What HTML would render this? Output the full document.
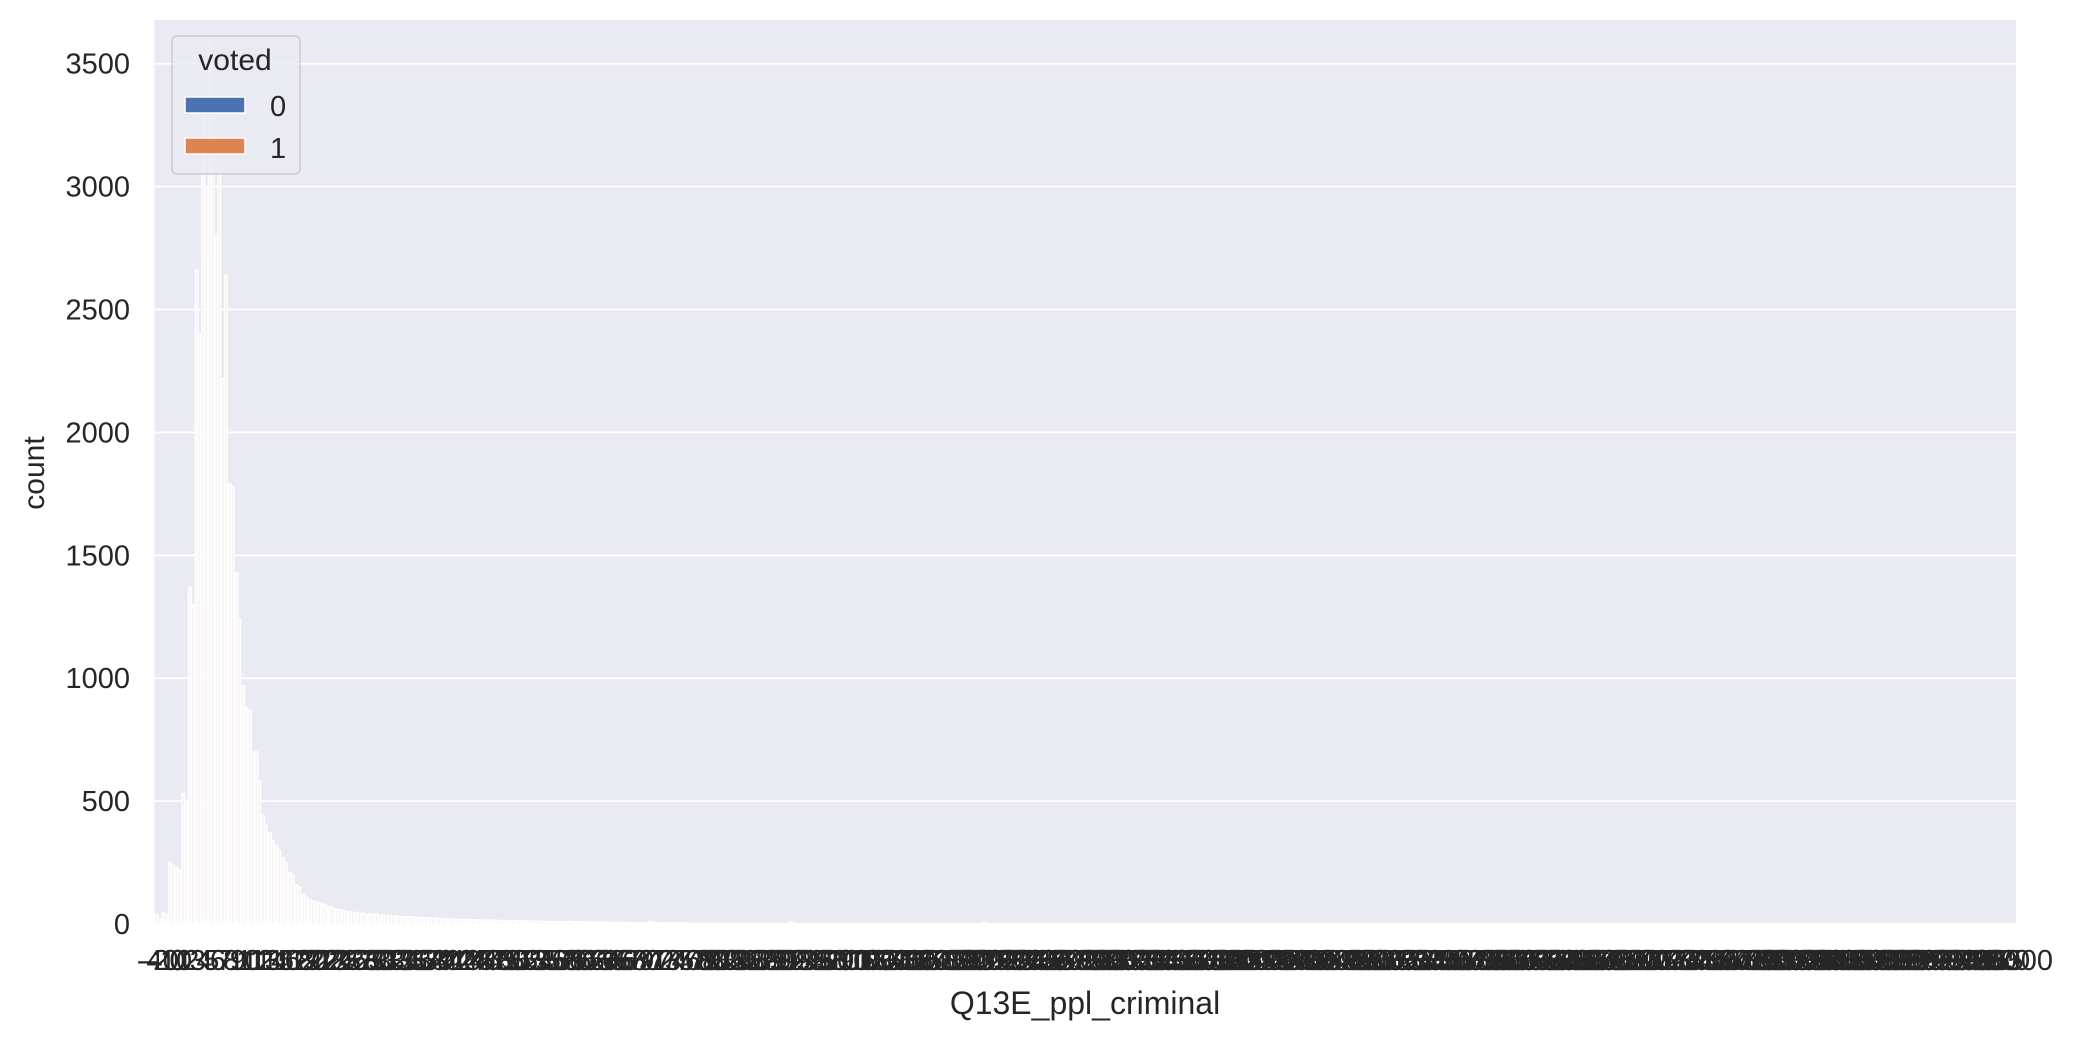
<!DOCTYPE html>
<html><head><meta charset="utf-8"><style>
html,body{margin:0;padding:0;background:#fff;}
svg{display:block;font-family:"Liberation Sans","DejaVu Sans",sans-serif;}
</style></head><body>
<svg id="chart" width="2088" height="1042" viewBox="0 0 2088 1042" xmlns="http://www.w3.org/2000/svg">
<rect x="154.5" y="20" width="1861.5" height="904" fill="#eaeaf2"/>
<g id="grid"></g>
<g id="bars"></g>
<g id="yticks"></g>
<g id="xticks"></g>
<text x="0" y="0" transform="translate(44,473) rotate(-90)" text-anchor="middle" font-size="30" fill="#262626">count</text>
<text x="1085" y="1014" text-anchor="middle" font-size="32" fill="#262626">Q13E_ppl_criminal</text>
<g>
<rect x="172" y="36" width="128" height="138" rx="5" fill="#eaeaf2" fill-opacity="0.8" stroke="#cccccc" stroke-width="1.5"/>
<text x="235" y="70" text-anchor="middle" font-size="30" fill="#262626">voted</text>
<rect x="185" y="97" width="60" height="16" fill="#4c72b0" stroke="#fff" stroke-width="1.5"/>
<text x="270" y="116" font-size="29" fill="#262626">0</text>
<rect x="185" y="138" width="60" height="16" fill="#dd8452" stroke="#fff" stroke-width="1.5"/>
<text x="270" y="158" font-size="29" fill="#262626">1</text>
</g>
</svg>
<script>
const yTicks = [0,500,1000,1500,2000,2500,3000,3500];
const categories = [-40,-20,-10,0,1,2,3,4,5,6,7,8,9,10,11,12,13,14,15,16,17,18,19,20,21,22,23,24,25,26,27,28,29,30,31,32,33,34,35,36,37,38,39,40,41,42,43,44,45,46,47,48,49,50,51,52,53,54,55,56,57,58,59,60,61,62,63,64,65,66,67,68,69,70,71,72,73,74,75,76,77,78,79,80,81,82,83,84,85,86,87,88,89,90,91,92,93,94,95,96,97,98,99,100,105,110,115,120,125,130,135,140,145,150,155,160,165,170,175,180,185,190,195,200,205,210,215,220,225,230,235,240,245,250,255,260,265,270,275,280,285,290,295,300,305,310,315,320,325,330,335,340,345,350,355,360,365,370,375,380,385,390,395,400,405,410,415,420,425,430,435,440,445,450,455,460,465,470,475,480,485,490,495,500,505,510,515,520,525,530,535,540,545,550,555,560,565,570,575,580,585,590,595,600,605,610,615,620,625,630,635,640,645,650,655,660,665,670,675,680,685,690,695,700,705,710,715,720,725,730,735,740,745,750,755,760,765,770,775,780,785,790,795,800,805,810,815,820,825,830,835,840,845,850,855,860,865,870,875,880,885,890,895,900,905,910,915,920,925,930,935,940,945,950,955,960,965,970,28000];
const head0 = [40,45,250,230,530,1370,2660,3300,3600,2800,2220,1790,1430,970,870,700,440,370,320,270,210,160,120,100,90,80,70,60,55];
const head1 = [20,40,240,220,500,1300,2400,3000,3300,3050,2640,1780,1240,880,700,580,400,340,300,250,200,150,110,95,85,75,65,58,50];
const tail0 = [50,48,45,42,40,38,35,33,30,30,28,27,25,25,24,22,20,20,19,18,17,16,15,15,14,14,13,12,12,11,11,10,10,12,9,9,8,8,8,7,7,7,6,6,6,10,5,5,5,5,4,4,4,4,4,3,3,3,3,3,3,3,2,2,2,2,8,2,2,2,2,2,2,2,2,1,1,1,1,1,1,1,1,1,1,1,1,1,1,1,1,1,1,1,1,6,1,1,1,1,1,1,1,1,1,1,0,1,0,1,0,1,0,1,0,1,0,1,0,1,0,1,0,1,0,1,0,1,0,1,0,1,0,1,0,1,0,1,0,1,0,1,0,1,0,1,0,1,0,1,0,1,0,1,0,1,0,1,0,1,0,1,0,1,0,1,0,1,0,1,0,1,0,1,0,1,0,1,0,1,0,1,0,1,0,1,0,1,0,1,0,1,0,1,0,1,0,1,0,1,0,1,0,1,0,1,0,1,0,1,0,1,0,1,0,1,0,1,0,1,0,1,0,1,0,1,0,1,0,1,0,1,0,1,0,1,0,1,0,1,0,1,0,1,0,1,0,1,0,1];
const tail1 = [45,44,40,40,36,34,32,30,29,27,26,24,23,22,21,20,19,18,17,16,15,15,14,13,13,12,12,11,11,10,10,9,9,10,8,8,7,7,7,6,6,6,5,5,5,8,5,4,4,4,4,3,3,3,3,3,3,2,2,2,2,2,2,2,2,2,6,2,1,1,1,1,1,1,1,1,1,1,1,1,1,1,1,1,1,1,1,1,1,1,1,1,1,1,1,5,1,1,1,1,1,1,1,1,1,1,1,0,1,0,1,0,1,0,1,0,1,0,1,0,1,0,1,0,1,0,1,0,1,0,1,0,1,0,1,0,1,0,1,0,1,0,1,0,1,0,1,0,1,0,1,0,1,0,1,0,1,0,1,0,1,0,1,0,1,0,1,0,1,0,1,0,1,0,1,0,1,0,1,0,1,0,1,0,1,0,1,0,1,0,1,0,1,0,1,0,1,0,1,0,1,0,1,0,1,0,1,0,1,0,1,0,1,0,1,0,1,0,1,0,1,0,1,0,1,0,1,0,1,0,1,0,1,0,1,0,1,0,1,0,1,0,1,0,1,0,1,0,1,0,1,0];
const voted0 = head0.concat(tail0);
const voted1 = head1.concat(tail1);

const NS = "http://www.w3.org/2000/svg";
const PL = 154.5, PR = 2016, PT = 20, PB = 924, YMAX = 3678;
function yScale(v){ return PB - v / YMAX * (PB - PT); }
const bw = (PR - PL) / categories.length;
function xScale(i){ return PL + i * bw; }

const grid = document.getElementById('grid');
const yt = document.getElementById('yticks');
yTicks.forEach(t => {
  const l = document.createElementNS(NS, 'line');
  
  
  l.setAttribute('x1', PL); l.setAttribute('x2', PR);
  l.setAttribute('y1', yScale(t)); l.setAttribute('y2', yScale(t));
  l.setAttribute('stroke', '#fff'); l.setAttribute('stroke-width', '1.8');
  grid.appendChild(l);
  const tx = document.createElementNS(NS, 'text');
  
  
  tx.setAttribute('x', 130); tx.setAttribute('y', yScale(t) + 10);
  tx.setAttribute('text-anchor', 'end'); tx.setAttribute('font-size', '29');
  tx.setAttribute('fill', '#262626');
  tx.textContent = t;
  yt.appendChild(tx);
});

const bars = document.getElementById('bars');
const xt = document.getElementById('xticks');
categories.forEach((c, i) => {
  [[voted0, '#f4f5fb', 0.1], [voted1, '#fbf2ed', 0.5]].forEach(([arr, col, off]) => {
    const v = arr[i] || 0;
    if (v <= 0) return;
    const r = document.createElementNS(NS, 'rect');
    
    
    r.setAttribute('x', xScale(i) + off * bw);
    r.setAttribute('width', 0.4 * bw);
    r.setAttribute('y', yScale(v));
    r.setAttribute('height', PB - yScale(v));
    r.setAttribute('fill', col);
    r.setAttribute('stroke', '#fff');
    r.setAttribute('stroke-width', '1.3');
    bars.appendChild(r);
  });
  const tx = document.createElementNS(NS, 'text');
  
  
  tx.setAttribute('x', xScale(i) + bw / 2);
  tx.setAttribute('y', 970);
  tx.setAttribute('text-anchor', 'middle');
  tx.setAttribute('font-size', '29');
  tx.setAttribute('fill', '#262626');
  tx.textContent = c;
  xt.appendChild(tx);
});
</script>
</body></html>
